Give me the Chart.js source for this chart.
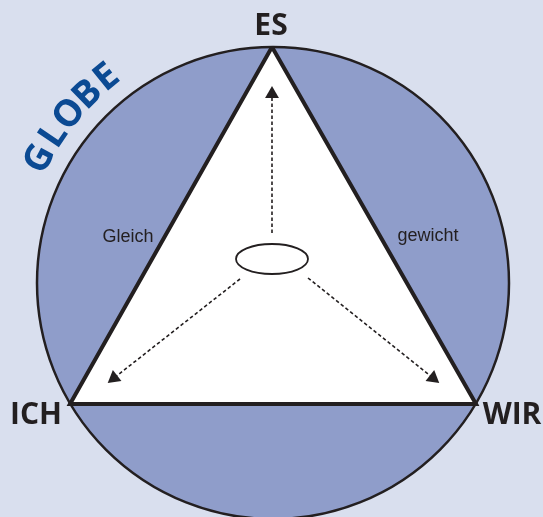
<!DOCTYPE html>
<html>
<head>
<meta charset="utf-8">
<script src="https://cdn.jsdelivr.net/npm/chart.js@4/dist/chart.umd.min.js"></script>
<style>
  html, body { margin: 0; padding: 0; background: #d9dfee; }
  canvas { display: block; }
</style>
</head>
<body>
<canvas id="globeChart" width="543" height="517"></canvas>
<script>
// Diagram data (page units, y grows downwards)
const cornerLabels = ['ES', 'ICH', 'WIR'];
const cornerX = [272, 70, 476];
const cornerY = [47, 404, 404];
const labelX = [271, 36, 512];
const labelY = [26, 415, 415];

const sideLabels = ['Gleich', 'gewicht'];
const sideX = [128, 428];
const sideY = [237, 236];

const circleCenter = [273, 283];
const circleRadius = 236;

const hubCenter = [272, 259];
const hubRadii = [36, 15];

// arrows: start -> tip
const arrowFromX = [272, 240, 308];
const arrowFromY = [233, 279, 278];
const arrowToX = [272, 114, 433];
const arrowToY = [94, 378, 378];

const titleText = 'GLOBE';
const titleAngles = [-152, -146, -140.3, -134.5, -129];
const titleRadius = 264;

// Colours
const BG = '#d9dfee';
const CIRCLE_FILL = '#8f9dca';
const INK = '#231f20';
const TITLE_BLUE = '#0b4a93';

const trianglePoints = cornerX.map((x, i) => ({ x: x, y: cornerY[i] }));
trianglePoints.push({ x: cornerX[0], y: cornerY[0] });

function arrowDataset(i) {
    const dx = arrowToX[i] - arrowFromX[i];
    const dy = arrowToY[i] - arrowFromY[i];
    const angle = Math.atan2(dx, -dy) * 180 / Math.PI;
    return {
        type: 'line',
        data: [{ x: arrowFromX[i], y: arrowFromY[i] }, { x: arrowToX[i], y: arrowToY[i] }],
        borderColor: INK,
        borderWidth: 1.6,
        borderDash: [3.5, 2.5],
        pointRadius: [0, 8],
        pointStyle: 'triangle',
        rotation: [0, angle],
        pointBackgroundColor: INK,
        pointBorderColor: INK,
        pointBorderWidth: 0,
        fill: false
    };
}

const backgroundPlugin = {
    id: 'globeBackground',
    beforeDraw(chart) {
        const ctx = chart.ctx;
        ctx.save();
        ctx.fillStyle = BG;
        ctx.fillRect(0, 0, chart.width, chart.height);
        ctx.restore();
    },
    beforeDatasetsDraw(chart) {
        const { ctx, scales: { x, y } } = chart;
        const cx = x.getPixelForValue(circleCenter[0]);
        const cy = y.getPixelForValue(circleCenter[1]);
        const r = x.getPixelForValue(circleCenter[0] + circleRadius) - cx;
        ctx.save();
        ctx.beginPath();
        ctx.arc(cx, cy, r, 0, Math.PI * 2);
        ctx.fillStyle = CIRCLE_FILL;
        ctx.fill();
        ctx.lineWidth = 2.5;
        ctx.strokeStyle = INK;
        ctx.stroke();
        ctx.restore();
    }
};

const labelPlugin = {
    id: 'globeLabels',
    afterDatasetsDraw(chart) {
        const { ctx, scales: { x, y } } = chart;
        ctx.save();

        // centre ellipse
        ctx.beginPath();
        ctx.ellipse(x.getPixelForValue(hubCenter[0]), y.getPixelForValue(hubCenter[1]),
            hubRadii[0], hubRadii[1], 0, 0, Math.PI * 2);
        ctx.fillStyle = '#ffffff';
        ctx.fill();
        ctx.lineWidth = 1.8;
        ctx.strokeStyle = INK;
        ctx.stroke();

        ctx.textAlign = 'center';
        ctx.textBaseline = 'middle';
        ctx.fillStyle = INK;
        ctx.font = 'bold 30px "Open Sans", sans-serif';
        cornerLabels.forEach((t, i) => {
            ctx.fillText(t, x.getPixelForValue(labelX[i]), y.getPixelForValue(labelY[i]));
        });

        ctx.font = '18px "Liberation Sans", Arial, sans-serif';
        sideLabels.forEach((t, i) => {
            ctx.fillText(t, x.getPixelForValue(sideX[i]), y.getPixelForValue(sideY[i]));
        });

        // curved title
        const cx = x.getPixelForValue(circleCenter[0]);
        const cy = y.getPixelForValue(circleCenter[1]);
        ctx.fillStyle = TITLE_BLUE;
        ctx.font = 'bold 37px "Open Sans", sans-serif';
        titleText.split('').forEach((ch, i) => {
            const a = titleAngles[i] * Math.PI / 180;
            ctx.save();
            ctx.translate(cx + titleRadius * Math.cos(a), cy + titleRadius * Math.sin(a));
            ctx.rotate(a + Math.PI / 2);
            ctx.fillText(ch, 0, 0);
            ctx.restore();
        });
        ctx.restore();
    }
};

const ctx = document.getElementById('globeChart').getContext('2d');
new Chart(ctx, {
    type: 'scatter',
    data: {
        datasets: [
            arrowDataset(0),
            arrowDataset(1),
            arrowDataset(2),
            {
                type: 'line',
                data: trianglePoints,
                borderColor: INK,
                borderWidth: 4,
                borderJoinStyle: 'miter',
                backgroundColor: '#ffffff',
                pointRadius: 0,
                fill: 'shape',
                tension: 0
            }
        ]
    },
    options: {
        responsive: false,
        animation: false,
        layout: { padding: 0, autoPadding: false },
        scales: {
            x: { type: 'linear', min: 0, max: 543, display: false },
            y: { type: 'linear', min: 0, max: 517, reverse: true, display: false }
        },
        plugins: {
            legend: { display: false },
            tooltip: { enabled: false }
        }
    },
    plugins: [backgroundPlugin, labelPlugin]
});
</script>
</body>
</html>
